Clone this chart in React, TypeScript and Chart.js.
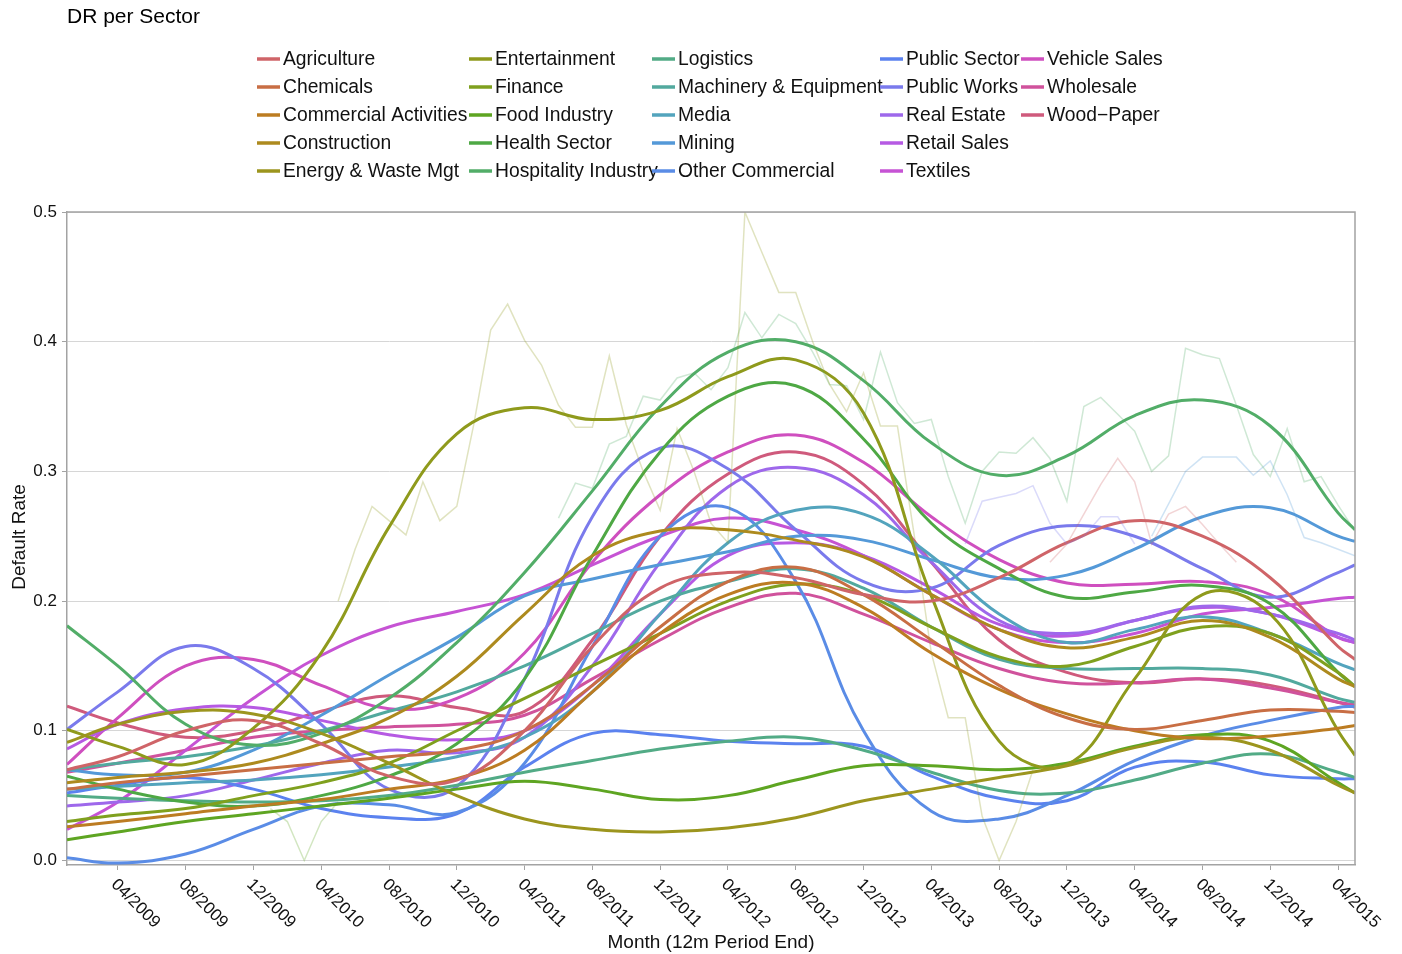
import React, { useEffect, useRef } from "react";
import { Chart, registerables } from "chart.js";

Chart.register(...registerables);

// Month index: 0 = 01/2009 ... 76 = 05/2015
const MONTH_IDX = [0, 3, 7, 11, 15, 19, 23, 27, 31, 35, 39, 43, 47, 51, 55, 59, 63, 67, 71, 75, 76];
const TICK_IDX = [3, 7, 11, 15, 19, 23, 27, 31, 35, 39, 43, 47, 51, 55, 59, 63, 67, 71, 75];
const TICK_LABELS = [
  "04/2009", "08/2009", "12/2009", "04/2010", "08/2010", "12/2010", "04/2011", "08/2011", "12/2011",
  "04/2012", "08/2012", "12/2012", "04/2013", "08/2013", "12/2013", "04/2014", "08/2014", "12/2014", "04/2015",
];
const Y_TICKS = [0, 0.1, 0.2, 0.3, 0.4, 0.5];

const SECTORS = [
  "Agriculture", "Chemicals", "Commercial Activities", "Construction", "Energy & Waste Mgt",
  "Entertainment", "Finance", "Food Industry", "Health Sector", "Hospitality Industry",
  "Logistics", "Machinery & Equipment", "Media", "Mining", "Other Commercial",
  "Public Sector", "Public Works", "Real Estate", "Retail Sales", "Textiles",
  "Vehicle Sales", "Wholesale", "Wood\u2212Paper",
];

const COLORS = [
  "#cf6468", "#c86e44", "#bc7c22", "#ad8a1e", "#9c951e",
  "#8f9a1c", "#7fa01e", "#5ea522", "#4ea844", "#52ad68",
  "#52ab86", "#52a99e", "#53a4bd", "#5499d8", "#5a8ce6",
  "#5b82ef", "#7a7aec", "#9e68eb", "#b65ae3", "#c653d4",
  "#cf4fbf", "#d0529c", "#cf5a7c",
];

// smoothed default rates, sampled at MONTH_IDX
const agriculture = [0.07, 0.08, 0.1, 0.108, 0.09, 0.065, 0.062, 0.1, 0.165, 0.21, 0.222, 0.218, 0.205, 0.2, 0.218, 0.245, 0.262, 0.25, 0.218, 0.165, 0.155];
const chemicals = [0.055, 0.06, 0.065, 0.07, 0.075, 0.08, 0.085, 0.1, 0.135, 0.18, 0.215, 0.226, 0.205, 0.17, 0.135, 0.11, 0.101, 0.108, 0.116, 0.115, 0.114];
const commercial = [0.026, 0.03, 0.036, 0.042, 0.047, 0.055, 0.063, 0.085, 0.13, 0.175, 0.205, 0.214, 0.195, 0.16, 0.132, 0.113, 0.1, 0.094, 0.096, 0.102, 0.104];
const construction = [0.06, 0.064, 0.068, 0.075, 0.09, 0.11, 0.142, 0.19, 0.235, 0.254, 0.255, 0.247, 0.234, 0.205, 0.178, 0.164, 0.172, 0.185, 0.172, 0.14, 0.134];
const energy = [0.091, 0.105, 0.115, 0.113, 0.098, 0.075, 0.05, 0.032, 0.024, 0.022, 0.025, 0.033, 0.046, 0.055, 0.064, 0.073, 0.087, 0.095, 0.085, 0.058, 0.052];
const entertainment = [0.101, 0.088, 0.074, 0.102, 0.16, 0.257, 0.329, 0.349, 0.34, 0.347, 0.373, 0.386, 0.345, 0.204, 0.092, 0.074, 0.14, 0.205, 0.19, 0.1, 0.081];
const finance = [0.03, 0.035, 0.04, 0.05, 0.06, 0.075, 0.1, 0.125, 0.15, 0.175, 0.2, 0.213, 0.205, 0.18, 0.157, 0.15, 0.165, 0.18, 0.175, 0.145, 0.134];
const food = [0.016, 0.022, 0.03, 0.036, 0.042, 0.048, 0.055, 0.061, 0.055, 0.047, 0.05, 0.062, 0.073, 0.073, 0.07, 0.075, 0.088, 0.097, 0.092, 0.06, 0.052];
const health = [0.065, 0.055, 0.045, 0.042, 0.05, 0.065, 0.09, 0.14, 0.235, 0.315, 0.358, 0.366, 0.325, 0.26, 0.225, 0.203, 0.207, 0.212, 0.198, 0.145, 0.134];
const hospitality = [0.181, 0.15, 0.105, 0.089, 0.098, 0.125, 0.168, 0.222, 0.285, 0.35, 0.392, 0.4, 0.37, 0.322, 0.297, 0.312, 0.343, 0.355, 0.335, 0.268, 0.255];
const logistics = [0.05, 0.048, 0.046, 0.045, 0.046, 0.05, 0.058, 0.068, 0.077, 0.086, 0.092, 0.095, 0.085, 0.068, 0.054, 0.052, 0.062, 0.075, 0.082, 0.068, 0.064];
const machinery = [0.07, 0.075, 0.08, 0.088, 0.1, 0.115, 0.13, 0.15, 0.175, 0.2, 0.215, 0.225, 0.21, 0.18, 0.155, 0.148, 0.148, 0.148, 0.143, 0.125, 0.122];
const media = [0.055, 0.057, 0.06, 0.062, 0.066, 0.072, 0.08, 0.095, 0.13, 0.19, 0.245, 0.27, 0.267, 0.235, 0.19, 0.168, 0.178, 0.188, 0.175, 0.152, 0.147];
const mining = [0.07, 0.066, 0.068, 0.085, 0.112, 0.143, 0.172, 0.204, 0.217, 0.228, 0.238, 0.25, 0.247, 0.232, 0.218, 0.22, 0.24, 0.265, 0.272, 0.25, 0.246];
const otherCommercial = [0.002, -0.002, 0.005, 0.024, 0.042, 0.043, 0.037, 0.075, 0.165, 0.25, 0.272, 0.215, 0.1, 0.038, 0.032, 0.05, 0.077, 0.096, 0.108, 0.118, 0.119];
const publicSector = [0.052, 0.058, 0.064, 0.055, 0.04, 0.033, 0.036, 0.072, 0.098, 0.097, 0.092, 0.09, 0.088, 0.065, 0.048, 0.046, 0.072, 0.076, 0.066, 0.063, 0.063];
const publicWorks = [0.101, 0.13, 0.165, 0.148, 0.105, 0.055, 0.057, 0.14, 0.265, 0.318, 0.302, 0.255, 0.215, 0.21, 0.243, 0.258, 0.25, 0.225, 0.203, 0.222, 0.228];
const realEstate = [0.042, 0.045, 0.05, 0.062, 0.075, 0.085, 0.083, 0.095, 0.15, 0.23, 0.288, 0.303, 0.282, 0.23, 0.185, 0.175, 0.185, 0.196, 0.19, 0.175, 0.17];
const retail = [0.086, 0.105, 0.117, 0.118, 0.108, 0.097, 0.093, 0.1, 0.135, 0.19, 0.235, 0.245, 0.235, 0.21, 0.182, 0.173, 0.185, 0.195, 0.19, 0.172, 0.168];
const textiles = [0.024, 0.045, 0.085, 0.125, 0.158, 0.18, 0.192, 0.205, 0.228, 0.25, 0.264, 0.255, 0.235, 0.205, 0.178, 0.168, 0.175, 0.19, 0.195, 0.202, 0.203];
const vehicle = [0.074, 0.11, 0.15, 0.155, 0.135, 0.117, 0.125, 0.16, 0.23, 0.282, 0.315, 0.328, 0.307, 0.265, 0.232, 0.214, 0.213, 0.215, 0.205, 0.172, 0.168];
const wholesale = [0.068, 0.075, 0.085, 0.095, 0.1, 0.103, 0.105, 0.112, 0.14, 0.17, 0.195, 0.206, 0.19, 0.168, 0.148, 0.137, 0.137, 0.14, 0.133, 0.122, 0.12];
const woodPaper = [0.119, 0.106, 0.095, 0.1, 0.115, 0.127, 0.118, 0.115, 0.17, 0.25, 0.298, 0.315, 0.29, 0.23, 0.17, 0.145, 0.137, 0.14, 0.135, 0.122, 0.118];

const SERIES = [
  agriculture, chemicals, commercial, construction, energy, entertainment, finance, food, health,
  hospitality, logistics, machinery, media, mining, otherCommercial, publicSector, publicWorks,
  realEstate, retail, textiles, vehicle, wholesale, woodPaper,
];

// raw monthly default rates (faint lines) where they are readable
const entertainmentRawStart = 16;
const entertainmentRaw = [0.2, 0.24, 0.273, 0.262, 0.251, 0.292, 0.262, 0.273, 0.336, 0.409, 0.429, 0.401, 0.382, 0.351, 0.334, 0.334, 0.389, 0.336, 0.3, 0.27, 0.333, 0.3, 0.26, 0.245, 0.5, 0.469, 0.438, 0.438, 0.4, 0.367, 0.346, 0.376, 0.335, 0.335, 0.25, 0.16, 0.11, 0.11, 0.034, 0.0, 0.03, 0.07];
const hospitalityRawStart = 29;
const hospitalityRaw = [0.264, 0.291, 0.287, 0.321, 0.327, 0.358, 0.355, 0.372, 0.376, 0.363, 0.38, 0.4225, 0.403, 0.421, 0.414, 0.392, 0.367, 0.366, 0.34, 0.392, 0.353, 0.337, 0.34, 0.296, 0.26, 0.3, 0.315, 0.314, 0.326, 0.31, 0.277, 0.35, 0.357, 0.344, 0.331, 0.3, 0.312, 0.395, 0.39, 0.387, 0.351, 0.313, 0.296, 0.333, 0.292, 0.296, 0.274, 0.254];
const miningRawStart = 64;
const miningRaw = [0.25, 0.275, 0.3, 0.311, 0.311, 0.311, 0.297, 0.308, 0.282, 0.249, 0.245, 0.24, 0.235];
const agricultureRawStart = 58;
const agricultureRaw = [0.23, 0.244, 0.267, 0.29, 0.31, 0.292, 0.244, 0.267, 0.273, 0.259, 0.244, 0.23];
const publicWorksRawStart = 53;
const publicWorksRaw = [0.244, 0.277, 0.28, 0.283, 0.289, 0.26, 0.244, 0.25, 0.265, 0.265, 0.244];
const foodRawStart = 12;
const foodRaw = [0.04, 0.03, 0.0, 0.03, 0.045];

const RAW = [
  { start: entertainmentRawStart, values: entertainmentRaw, color: "rgba(143,154,28,0.28)" },
  { start: hospitalityRawStart, values: hospitalityRaw, color: "rgba(82,173,104,0.28)" },
  { start: miningRawStart, values: miningRaw, color: "rgba(84,153,216,0.28)" },
  { start: agricultureRawStart, values: agricultureRaw, color: "rgba(207,100,104,0.28)" },
  { start: publicWorksRawStart, values: publicWorksRaw, color: "rgba(122,122,236,0.28)" },
  { start: foodRawStart, values: foodRaw, color: "rgba(94,165,34,0.28)" },
];

const FONT = "'Liberation Sans', Arial, Helvetica, sans-serif";
const FRAME = "#a3a3a3";

const decorPlugin = {
  id: "decor",
  afterDraw(chart: any) {
    const ctx = chart.ctx as CanvasRenderingContext2D;
    const area = chart.chartArea;
    const xs = chart.scales.x;
    ctx.save();
    ctx.strokeStyle = FRAME;
    ctx.lineWidth = 1.5;
    ctx.beginPath();
    ctx.moveTo(area.left, area.top);
    ctx.lineTo(area.right, area.top);
    ctx.lineTo(area.right, area.bottom);
    ctx.stroke();

    ctx.fillStyle = "#000";
    ctx.font = `21px ${FONT}`;
    ctx.textAlign = "left";
    ctx.textBaseline = "middle";
    ctx.fillText("DR per Sector", 67, 17);

    const colX = [257, 469, 652, 880, 1021];
    const rowY = [59, 87, 115, 143, 171];
    ctx.font = `19.3px ${FONT}`;
    SECTORS.forEach((name, i) => {
      const c = Math.floor(i / 5);
      const r = i % 5;
      const x = colX[c];
      const y = rowY[r];
      ctx.strokeStyle = COLORS[i];
      ctx.lineWidth = 3.5;
      ctx.beginPath();
      ctx.moveTo(x, y);
      ctx.lineTo(x + 23, y);
      ctx.stroke();
      ctx.fillStyle = "#111";
      ctx.fillText(name, x + 26, y + 1);
    });

    ctx.font = `17px ${FONT}`;
    ctx.fillStyle = "#111";
    ctx.textAlign = "left";
    ctx.textBaseline = "middle";
    TICK_IDX.forEach((v, i) => {
      const px = xs.getPixelForValue(v);
      ctx.save();
      ctx.translate(px - 4, 882);
      ctx.rotate(Math.PI / 4);
      ctx.fillText(TICK_LABELS[i], 0, 0);
      ctx.restore();
    });

    ctx.font = `19px ${FONT}`;
    ctx.textAlign = "center";
    ctx.textBaseline = "middle";
    ctx.fillText("Month (12m Period End)", (area.left + area.right) / 2, 943);
    ctx.save();
    ctx.translate(20, 537);
    ctx.rotate(-Math.PI / 2);
    ctx.fillText("Default Rate", 0, 0);
    ctx.restore();
    ctx.restore();
  },
};

export default function App() {
  const ref = useRef<HTMLCanvasElement | null>(null);
  useEffect(() => {
    if (!ref.current) return;
    const rawSets = RAW.map((r) => ({
      label: "raw",
      data: r.values.map((v, k) => ({ x: r.start + k, y: v })),
      borderColor: r.color,
      borderWidth: 1.5,
      pointRadius: 0,
      tension: 0,
      fill: false,
    }));
    const smoothSets = SERIES.map((vals, i) => ({
      label: SECTORS[i],
      data: MONTH_IDX.map((m, k) => ({ x: m, y: vals[k] })),
      borderColor: COLORS[i],
      backgroundColor: COLORS[i],
      borderWidth: 3,
      pointRadius: 0,
      tension: 0.4,
      fill: false,
    }));
    const chart = new Chart(ref.current, {
      type: "line",
      data: { datasets: [...rawSets, ...smoothSets] },
      plugins: [decorPlugin],
      options: {
        animation: false,
        responsive: false,
        layout: { padding: { top: 212, right: 47, bottom: 0, left: 0 } },
        plugins: { legend: { display: false }, title: { display: false }, tooltip: { enabled: false } },
        scales: {
          x: {
            type: "linear",
            min: 0,
            max: 76,
            afterFit: (s: any) => { s.height = 89; },
            afterBuildTicks: (s: any) => { s.ticks = TICK_IDX.map((v) => ({ value: v })); },
            ticks: { display: false },
            grid: { drawOnChartArea: false, drawTicks: true, tickLength: 5, tickColor: FRAME, color: FRAME },
            border: { display: true, color: FRAME, width: 1.5 },
          },
          y: {
            type: "linear",
            min: -0.0035,
            max: 0.5,
            afterFit: (s: any) => { s.width = 67; },
            afterBuildTicks: (s: any) => { s.ticks = Y_TICKS.map((v) => ({ value: v })); },
            ticks: {
              padding: 5,
              color: "#111",
              font: { family: FONT, size: 17 },
              callback: (v: any) => Number(v).toFixed(1),
            },
            grid: { color: "#d6d6d6", lineWidth: 1, tickLength: 5, tickColor: FRAME },
            border: { display: true, color: FRAME, width: 1.5 },
          },
        },
      },
    } as any);
    return () => chart.destroy();
  }, []);
  return (
    <div style={{ position: "fixed", left: 0, top: 0, width: 1402, height: 954, background: "#fff" }}>
      <canvas ref={ref} width={1402} height={954} style={{ display: "block", width: 1402, height: 954 }} />
    </div>
  );
}
